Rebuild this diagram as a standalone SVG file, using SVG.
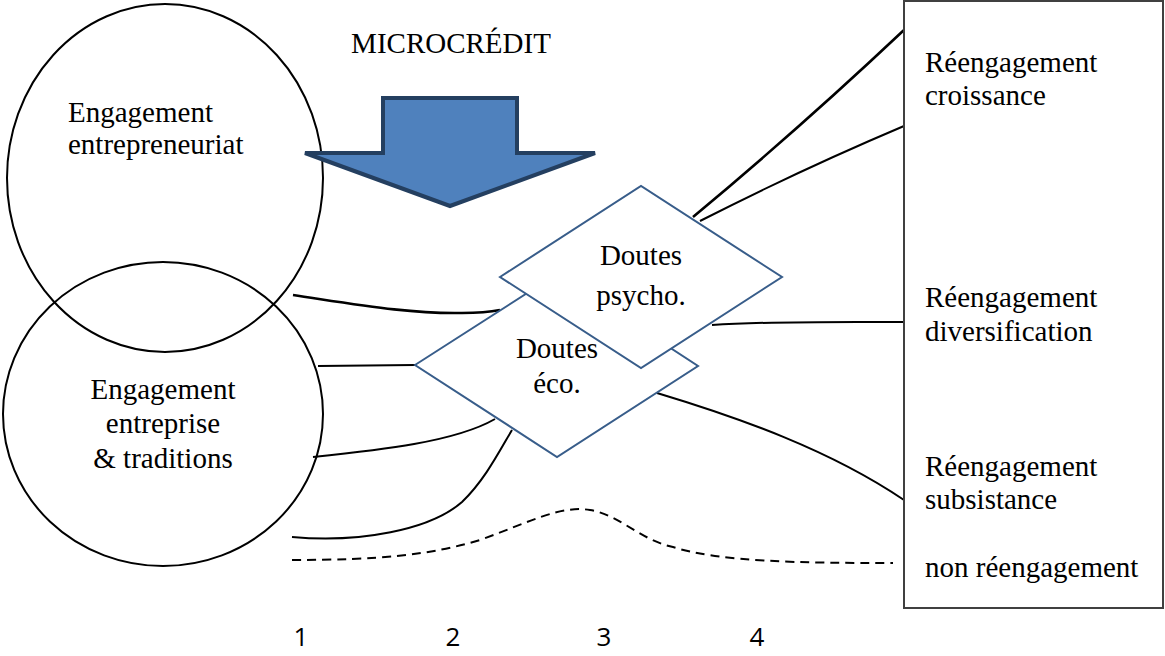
<svg xmlns="http://www.w3.org/2000/svg" width="1165" height="656" viewBox="0 0 1165 656">
<style>
.t{font-family:"Liberation Serif","Times New Roman",serif;font-size:29px;fill:#000}
.n{font-family:"Open Sans","Liberation Sans",sans-serif;font-size:26px;fill:#000;text-anchor:middle}
.c{text-anchor:middle}
.ell{fill:none;stroke:#000;stroke-width:2}
.dia{fill:#fff;stroke:#385D8A;stroke-width:2}
.ln{fill:none;stroke:#000;stroke-width:2}
.thick{stroke-width:2.6}
.dash{stroke-dasharray:9 6}
</style>
<rect width="1165" height="656" fill="#fff"/>
<g id="engagement-entrepreneuriat">
<ellipse class="ell" cx="165" cy="178" rx="158" ry="174"/>
<text class="t" x="68" y="122">Engagement</text>
<text class="t" x="68" y="154">entrepreneuriat</text>
</g>
<g id="engagement-entreprise">
<ellipse class="ell" cx="163" cy="414" rx="160" ry="152"/>
<text class="t c" x="163" y="399">Engagement</text>
<text class="t c" x="163" y="433">entreprise</text>
<text class="t c" x="163" y="468">&amp; traditions</text>
</g>
<g id="microcredit">
<text class="t c" x="451" y="53">MICROCRÉDIT</text>
<polygon points="383,98 517,98 517,153 595,153 450,206 305,153 383,153" fill="#4F81BD" stroke="#243F60" stroke-width="4" stroke-linejoin="miter"/>
</g>
<g id="connectors">
<path class="ln thick" d="M693 217 Q800 128 904 30"/>
<path class="ln" d="M700 221 Q800 170 904 126"/>
<path class="ln" d="M712 325 C770 321 850 322 904 322"/>
<path class="ln" d="M657 393 C740 418 830 450 904 500"/>
<path class="ln thick" d="M293 295 C360 305 410 314 462 313 C480 313 490 312 500 310"/>
<path class="ln" d="M318 366 L415 365"/>
<path class="ln" d="M313 457 C380 450 455 442 495 419"/>
<path class="ln" d="M292 537 C360 543 430 530 462 502 C485 480 500 450 512 430"/>
<path class="ln dash" d="M292 560 C380 560 430 555 480 540 C530 522 560 505 590 510 C620 515 640 540 673 547 C720 562 800 563 893 563"/>
</g>
<g id="doutes-eco">
<polygon class="dia" points="415,365 557,274 698,366 557,457"/>
<text class="t c" x="557" y="358">Doutes</text>
<text class="t c" x="557" y="393">éco.</text>
</g>
<g id="doutes-psycho">
<polygon class="dia" points="500,277 641,186 782,277 641,368"/>
<text class="t c" x="641" y="265">Doutes</text>
<text class="t c" x="641" y="305">psycho.</text>
</g>
<g id="reengagement-box">
<rect x="904" y="1" width="259" height="607" fill="#fff" stroke="#404040" stroke-width="2"/>
<text class="t" x="925" y="72">Réengagement</text>
<text class="t" x="925" y="105">croissance</text>
<text class="t" x="925" y="307">Réengagement</text>
<text class="t" x="925" y="341">diversification</text>
<text class="t" x="925" y="476">Réengagement</text>
<text class="t" x="925" y="509">subsistance</text>
<text class="t" x="925" y="577">non réengagement</text>
</g>
<g id="axis">
<text class="n" x="301" y="646">1</text>
<text class="n" x="453" y="646">2</text>
<text class="n" x="604" y="646">3</text>
<text class="n" x="757" y="646">4</text>
</g>
</svg>
